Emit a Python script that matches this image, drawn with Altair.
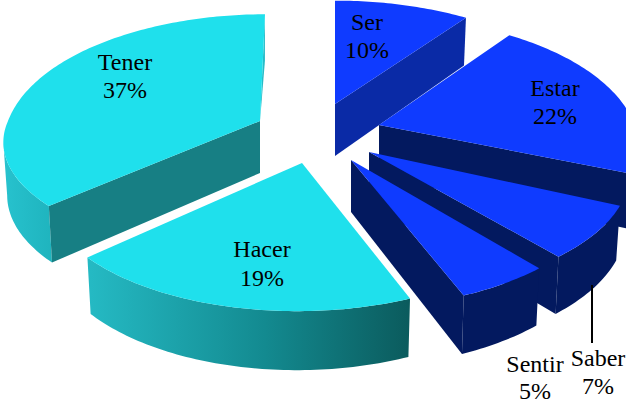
import math
import altair as alt

# Verbs and their percentage shares, clockwise from twelve o'clock
names = ["Ser", "Estar", "Saber", "Sentir", "Hacer", "Tener"]
shares = [10, 22, 7, 5, 19, 37]

# Tip of each exploded wedge on the canvas
tip_x = [335, 379, 369, 351, 302, 260]
tip_y = [104, 125, 152, 160, 163, 121]

# Per-wedge shape of the tilted rim: back and front half-axes, width factor, sideways lean
ry_back = [123, 128, 120, 120, 120, 127]
ry_front = [120, 105, 116, 120, 120, 108]
widen = [1.02, 1.015, 1.015, 1.0, 1.0, 1.0]
lean_back = [0, 0, 0, 0, 0, 5]
lean_front = [0, 0, 2, 0, 5, 0]

# Centre and baselines of the two-line slice labels
label_x = [367, 555, 598, 535, 262, 125]
label_y1 = [30, 96, 366, 372, 257, 70]
label_y2 = [58, 124, 394, 399, 286, 98]

BLUE, NAVY, SER_WALL = "#0f3bff", "#03195f", "#0a2aa6"
CYAN, TEAL = "#1fe0ec", "#177f84"

RX, PERSPECTIVE = 252, 0.19
DEPTH, SHRINK = 52, 0.985
# Angle where the Tener rim reaches its leftmost point, closing its outer wall
TENER_SILHOUETTE = 259


def project(i, deg, lower=False):
    """Tilted-disc position of a rim point of wedge i, at the top or bottom face."""
    t = math.radians(deg)
    u, v = math.sin(t), math.cos(t)
    f = 1 / (1 + PERSPECTIVE * v)
    ry = ry_back[i] if v > 0 else ry_front[i]
    lean = lean_back[i] * max(v, 0) ** 3 + lean_front[i] * min(v, 0)
    dx, dy = RX * widen[i] * u * f + lean, -ry * v * f
    if lower:
        return [tip_x[i] + dx * SHRINK, tip_y[i] + dy + DEPTH * f ** 0.6]
    return [tip_x[i] + dx, tip_y[i] + dy]


def tip(i, lower=False):
    return [tip_x[i] * 1.0, tip_y[i] + (DEPTH if lower else 0)]


def sweep(a, b):
    n = max(2, int(abs(b - a)))
    return [a + (b - a) * k / n for k in range(n + 1)]


def top_face(i, a, b):
    return [tip(i)] + [project(i, d) for d in sweep(a, b)]


def rim_wall(i, a, b):
    return [project(i, d) for d in sweep(a, b)] + [project(i, d, True) for d in sweep(b, a)]


def cut_wall(i, d):
    return [tip(i), project(i, d), project(i, d, True), tip(i, True)]


def layer(points, fill):
    ring = points + [points[0]]
    feature = {"type": "Feature", "properties": {}, "geometry": {"type": "Polygon", "coordinates": [ring]}}
    return (
        alt.Chart(alt.Data(values=[feature]))
        .mark_geoshape(fill=fill, stroke=None, clip=True)
        .project(type="identity", scale=1, translate=[0, 0])
    )


def horizontal(*stops):
    return alt.Gradient(
        gradient="linear", x1=0, x2=1, y1=0, y2=0,
        stops=[alt.GradientStop(offset=o, color=c) for o, c in stops],
    )


# Start and end angle of every wedge from the shares
ends = []
total = 0
for s in shares:
    ends.append((total * 3.6, (total + s) * 3.6))
    total += s
SER, ESTAR, SABER, SENTIR, HACER, TENER = range(6)

layers = [
    # Tener, furthest back on the left
    layer([tip(TENER), project(TENER, 360), project(TENER, 360, True)], "#27bcc8"),
    layer(rim_wall(TENER, ends[TENER][0], TENER_SILHOUETTE), horizontal((0, "#27c2ce"), (1, "#1fb4be"))),
    layer(cut_wall(TENER, ends[TENER][0]), TEAL),
    layer(top_face(TENER, *ends[TENER]), CYAN),
    # Ser
    layer(cut_wall(SER, ends[SER][1]), SER_WALL),
    layer(top_face(SER, *ends[SER]), BLUE),
    # Estar
    layer(cut_wall(ESTAR, ends[ESTAR][1]), NAVY),
    layer(rim_wall(ESTAR, 90, ends[ESTAR][1]), NAVY),
    layer(top_face(ESTAR, *ends[ESTAR]), BLUE),
    # Saber
    layer(cut_wall(SABER, ends[SABER][1]), NAVY),
    layer(rim_wall(SABER, *ends[SABER]), NAVY),
    layer(top_face(SABER, *ends[SABER]), BLUE),
    # Sentir
    layer(cut_wall(SENTIR, ends[SENTIR][1]), NAVY),
    layer(rim_wall(SENTIR, *ends[SENTIR]), NAVY),
    layer(top_face(SENTIR, *ends[SENTIR]), BLUE),
    # Hacer, closest to the viewer
    layer(rim_wall(HACER, *ends[HACER]),
          horizontal((0, "#25bac4"), (0.55, "#138a90"), (1, "#0b5b5d"))),
    layer(top_face(HACER, *ends[HACER]), CYAN),
]

# Leader line from the Saber label up to its wedge
leader = alt.Chart(alt.Data(values=[{"x": 592, "y": 285, "y2": 343}])).mark_rule(
    color="#000000", strokeWidth=2
).encode(
    x=alt.X("x:Q", scale=None),
    y=alt.Y("y:Q", scale=None),
    y2="y2:Q",
)

rows = []
for n, s, x, y1, y2 in zip(names, shares, label_x, label_y1, label_y2):
    rows.append({"text": n, "x": x, "y": y1})
    rows.append({"text": f"{s}%", "x": x, "y": y2})

labels = alt.Chart(alt.Data(values=rows)).mark_text(
    font="Liberation Serif", fontSize=24, color="#000000", align="center", baseline="alphabetic"
).encode(
    x=alt.X("x:Q", scale=None),
    y=alt.Y("y:Q", scale=None),
    text="text:N",
)

chart = (
    alt.layer(*layers, leader, labels)
    .properties(width=626, height=402, padding=0, autosize=alt.AutoSizeParams(type="none"), background="white")
    .configure_view(stroke=None)
)

chart.save("out.html", embed_options={"renderer": "svg", "actions": False})
